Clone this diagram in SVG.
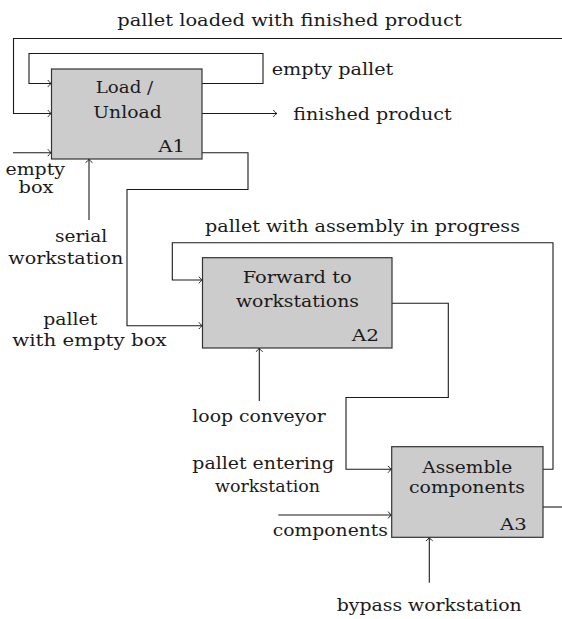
<svg xmlns="http://www.w3.org/2000/svg" width="562" height="619" viewBox="0 0 562 619">
  <style>
    .box { fill: #cccccc; stroke: #333333; stroke-width: 1.2; }
    .wire { fill: none; stroke: #1a1a1a; stroke-width: 1.1; }
    .arr { marker-end: url(#to); }
    text { font-family: "DejaVu Serif", "Liberation Serif", serif; font-size: 16.5px; fill: #1a1a1a; }
  </style>
  <defs>
    <marker id="to" markerUnits="userSpaceOnUse" markerWidth="10" markerHeight="10" viewBox="-5 -5 10 10" refX="0" refY="0" orient="auto" overflow="visible">
      <path d="M-3.6,-3.4 C-2.6,-1.6 -0.8,-0.4 0,0 C-0.8,0.4 -2.6,1.6 -3.6,3.4" fill="none" stroke="#1a1a1a" stroke-width="1"/>
    </marker>
  </defs>

  <!-- connectors -->
  <g id="connectors">
    <path class="wire arr" d="M562,38.5 H13.5 V113.5 H51.5"/>
    <path class="wire arr" d="M202,83.5 H263 V53.5 H29 V83.5 H51.5"/>
    <path class="wire arr" d="M202,113.5 H277"/>
    <path class="wire arr" d="M13,152.7 H51.5"/>
    <path class="wire arr" d="M89,220 V159"/>
    <path class="wire arr" d="M202,152.7 H248 V189.5 H127 V325.7 H202.5"/>
    <path class="wire arr" d="M543,469.3 H553 V242.7 H172.3 V280 H202.5"/>
    <path class="wire arr" d="M392,303.3 H448.3 V397.5 H346 V469.3 H391.7"/>
    <path class="wire arr" d="M259.3,401 V348"/>
    <path class="wire arr" d="M278.3,515 H391.7"/>
    <path class="wire arr" d="M429.3,582.7 V537.3"/>
    <path class="wire" d="M543,507 H562"/>
  </g>

  <!-- A1 -->
  <g id="a1">
    <rect class="box" x="51.5" y="69" width="150.5" height="90"/>
    <text x="95.7" y="93.3" textLength="57.6" lengthAdjust="spacingAndGlyphs">Load /</text>
    <text x="93.3" y="118.3" textLength="68.4" lengthAdjust="spacingAndGlyphs">Unload</text>
    <text x="158.3" y="151.7" textLength="26.7" lengthAdjust="spacingAndGlyphs">A1</text>
  </g>

  <!-- A2 -->
  <g id="a2">
    <rect class="box" x="202.5" y="257.7" width="189.5" height="90.3"/>
    <text x="242.7" y="283.3" textLength="109" lengthAdjust="spacingAndGlyphs">Forward to</text>
    <text x="236" y="306.7" textLength="123" lengthAdjust="spacingAndGlyphs">workstations</text>
    <text x="351.7" y="341" textLength="27.3" lengthAdjust="spacingAndGlyphs">A2</text>
  </g>

  <!-- A3 -->
  <g id="a3">
    <rect class="box" x="391.7" y="446.7" width="151.3" height="90.6"/>
    <text x="422.3" y="473.3" textLength="90" lengthAdjust="spacingAndGlyphs">Assemble</text>
    <text x="409" y="492.7" textLength="116" lengthAdjust="spacingAndGlyphs">components</text>
    <text x="500" y="530" textLength="26.7" lengthAdjust="spacingAndGlyphs">A3</text>
  </g>

  <!-- flow labels -->
  <g id="labels">
    <text x="117.3" y="26" textLength="344.4" lengthAdjust="spacingAndGlyphs">pallet loaded with finished product</text>
    <text x="271.7" y="75" textLength="121.6" lengthAdjust="spacingAndGlyphs">empty pallet</text>
    <text x="293.3" y="120" textLength="158.4" lengthAdjust="spacingAndGlyphs">finished product</text>
    <text x="5.5" y="174.5" textLength="59.5" lengthAdjust="spacingAndGlyphs">empty</text>
    <text x="18.5" y="192.5" textLength="35" lengthAdjust="spacingAndGlyphs">box</text>
    <text x="55" y="242" textLength="52.3" lengthAdjust="spacingAndGlyphs">serial</text>
    <text x="8.3" y="264" textLength="115" lengthAdjust="spacingAndGlyphs">workstation</text>
    <text x="43.3" y="324.5" textLength="54" lengthAdjust="spacingAndGlyphs">pallet</text>
    <text x="12.3" y="346" textLength="154.4" lengthAdjust="spacingAndGlyphs">with empty box</text>
    <text x="205" y="231.7" textLength="315" lengthAdjust="spacingAndGlyphs">pallet with assembly in progress</text>
    <text x="192.3" y="422" textLength="133.4" lengthAdjust="spacingAndGlyphs">loop conveyor</text>
    <text x="192.3" y="469" textLength="141.7" lengthAdjust="spacingAndGlyphs">pallet entering</text>
    <text x="215" y="491.5" textLength="105" lengthAdjust="spacingAndGlyphs">workstation</text>
    <text x="272.7" y="536" textLength="115.3" lengthAdjust="spacingAndGlyphs">components</text>
    <text x="336.7" y="610.5" textLength="185" lengthAdjust="spacingAndGlyphs">bypass workstation</text>
  </g>
</svg>
